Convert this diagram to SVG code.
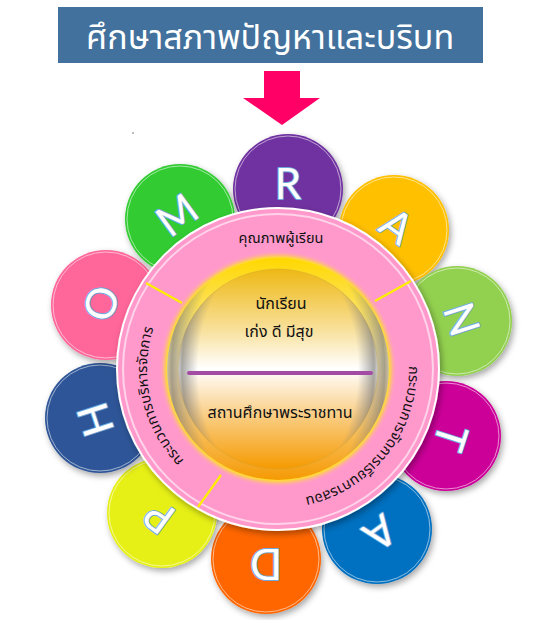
<svg xmlns="http://www.w3.org/2000/svg" width="546" height="620" viewBox="0 0 546 620">
<defs>
  <style>
    .thai { font-family: "Noto Sans Thai", "Noto Sans", "DejaVu Sans", sans-serif; }
    .letter { font-family: "Lato", "Liberation Sans", sans-serif; font-weight: 400; font-size: 42px; fill: #ffffff; stroke: #6FA8DC; stroke-width: 2; paint-order: stroke; stroke-linejoin: round; text-anchor: middle; }
    .petal-edge { fill: none; stroke: #ffffff; stroke-opacity: 0.55; stroke-width: 1; }
    .ringtxt { font-size: 14.5px; fill: #111111; }
    .divider { stroke: #FFEE00; stroke-width: 2.2; }
    .ctext { font-size: 16px; fill: #111111; text-anchor: middle; }
  </style>
  <filter id="sh" x="-30%" y="-30%" width="160%" height="160%">
    <feDropShadow dx="2" dy="3" stdDeviation="3" flood-color="#000" flood-opacity="0.35"/>
  </filter>
  <filter id="yglow" x="-20%" y="-20%" width="140%" height="140%">
    <feGaussianBlur stdDeviation="2.5"/>
  </filter>
  <linearGradient id="goldOuter" x1="0" y1="0" x2="0" y2="1">
    <stop offset="0" stop-color="#FFD800"/>
    <stop offset="0.45" stop-color="#FAEBB5"/>
    <stop offset="0.55" stop-color="#FBE4B2"/>
    <stop offset="1" stop-color="#F59A05"/>
  </linearGradient>
  <linearGradient id="goldInner" x1="0" y1="0" x2="0" y2="1">
    <stop offset="0" stop-color="#EEB814"/>
    <stop offset="0.3" stop-color="#F8E09A"/>
    <stop offset="0.5" stop-color="#FFFFFF"/>
    <stop offset="0.72" stop-color="#FAD08A"/>
    <stop offset="1" stop-color="#F59A00"/>
  </linearGradient>
  <radialGradient id="silver" cx="0.5" cy="0.5" r="0.5" gradientTransform="translate(0.5 0.5) scale(1 1.5) translate(-0.5 -0.5)">
    <stop offset="0.8" stop-color="#7a7a7a" stop-opacity="0"/>
    <stop offset="0.96" stop-color="#6e6e6e" stop-opacity="0.6"/>
    <stop offset="1" stop-color="#6e6e6e" stop-opacity="0.3"/>
  </radialGradient>
  <path id="arcLeft" d="M228.93,490.46 A131,131 0 0 1 180.65,281.34"/>
  <path id="arcRight" d="M403.54,331.57 A131,131 0 0 1 270.23,499.77"/>
</defs>

<rect width="546" height="620" fill="#ffffff"/>

<g id="title">
  <rect x="58" y="7" width="425" height="56" fill="#41719C"/>
  <text class="thai" x="270" y="49" font-size="34" fill="#ffffff" text-anchor="middle">ศึกษาสภาพปัญหาและบริบท</text>
</g>

<g id="connectors">
  <polygon points="264,71 300,71 300,98 320,98 282,125 243,98 264,98" fill="#FF0066"/>
</g>

<circle cx="133" cy="133" r="0.8" fill="#666"/>

<g id="petals">
  <g id="petal-R" transform="translate(288,189)">
    <circle r="55" fill="#7030A0" filter="url(#sh)"/><circle r="53" class="petal-edge"/>
    <text class="letter" transform="rotate(0)" x="0" y="10">R</text>
  </g>
  <g id="petal-A1" transform="translate(394,230)">
    <circle r="55" fill="#FFC000" filter="url(#sh)"/><circle r="53" class="petal-edge"/>
    <text class="letter" transform="rotate(36)" x="0" y="10">A</text>
  </g>
  <g id="petal-N" transform="translate(457,321)">
    <circle r="55" fill="#92D050" filter="url(#sh)"/><circle r="53" class="petal-edge"/>
    <text class="letter" transform="rotate(72)" x="0" y="10">N</text>
  </g>
  <g id="petal-T" transform="translate(446,436)">
    <circle r="55" fill="#CC0099" filter="url(#sh)"/><circle r="53" class="petal-edge"/>
    <text class="letter" transform="rotate(108)" x="0" y="10">T</text>
  </g>
  <g id="petal-A2" transform="translate(377,529)">
    <circle r="55" fill="#0070C0" filter="url(#sh)"/><circle r="53" class="petal-edge"/>
    <text class="letter" transform="rotate(144)" x="0" y="10">A</text>
  </g>
  <g id="petal-D" transform="translate(266,559)">
    <circle r="55" fill="#FF6600" filter="url(#sh)"/><circle r="53" class="petal-edge"/>
    <text class="letter" transform="rotate(180)" x="0" y="10">D</text>
  </g>
  <g id="petal-P" transform="translate(162,513)">
    <circle r="55" fill="#E6F015" filter="url(#sh)"/><circle r="53" class="petal-edge"/>
    <text class="letter" transform="rotate(216)" x="0" y="10">P</text>
  </g>
  <g id="petal-H" transform="translate(100,418)">
    <circle r="55" fill="#2F5597" filter="url(#sh)"/><circle r="53" class="petal-edge"/>
    <text class="letter" transform="rotate(252)" x="0" y="10">H</text>
  </g>
  <g id="petal-O" transform="translate(106,305)">
    <circle r="55" fill="#FF6699" filter="url(#sh)"/><circle r="53" class="petal-edge"/>
    <text class="letter" transform="rotate(288)" x="0" y="10">O</text>
  </g>
  <g id="petal-M" transform="translate(180,219)">
    <circle r="55" fill="#33CC33" filter="url(#sh)"/><circle r="53" class="petal-edge"/>
    <text class="letter" transform="rotate(324)" x="0" y="10">M</text>
  </g>
</g>

<g id="ring">
  <circle cx="278" cy="369" r="161" fill="#FF99CC" stroke="#ffffff" stroke-width="2" filter="url(#sh)"/>
  <circle cx="278" cy="369" r="155" fill="none" stroke="#FFD3EA" stroke-width="2"/>
  <line class="divider" x1="146" y1="283" x2="182" y2="303"/>
  <line class="divider" x1="375" y1="301" x2="411" y2="281"/>
  <line class="divider" x1="198" y1="507" x2="221" y2="475"/>
  <text class="thai ringtxt" x="281" y="243" text-anchor="middle" font-size="15">คุณภาพผู้เรียน</text>
  <text class="thai ringtxt"><textPath href="#arcLeft" startOffset="50%" text-anchor="middle">กระบวนการบริหารจัดการ</textPath></text>
  <text class="thai ringtxt"><textPath href="#arcRight" startOffset="50%" text-anchor="middle">กระบวนการจัดการเรียนการสอน</textPath></text>
</g>

<g id="center">
  <circle cx="278" cy="369" r="113" fill="#FFF200" filter="url(#yglow)"/>
  <circle cx="278" cy="369" r="111" fill="url(#goldOuter)"/>
  <circle cx="278" cy="369" r="111" fill="url(#silver)"/>
  <circle cx="278" cy="369" r="100" fill="url(#goldInner)" stroke="#C9A23A" stroke-opacity="0.4" stroke-width="1"/>
  <circle cx="278" cy="369" r="100" fill="url(#silver)"/>
  <line x1="189" y1="373" x2="371" y2="373" stroke="#A24CA4" stroke-width="4" stroke-linecap="round"/>
  <text class="thai ctext" x="281" y="309">นักเรียน</text>
  <text class="thai ctext" x="279" y="337">เก่ง ดี มีสุข</text>
  <text class="thai ctext" x="280" y="418">สถานศึกษาพระราชทาน</text>
</g>
</svg>
